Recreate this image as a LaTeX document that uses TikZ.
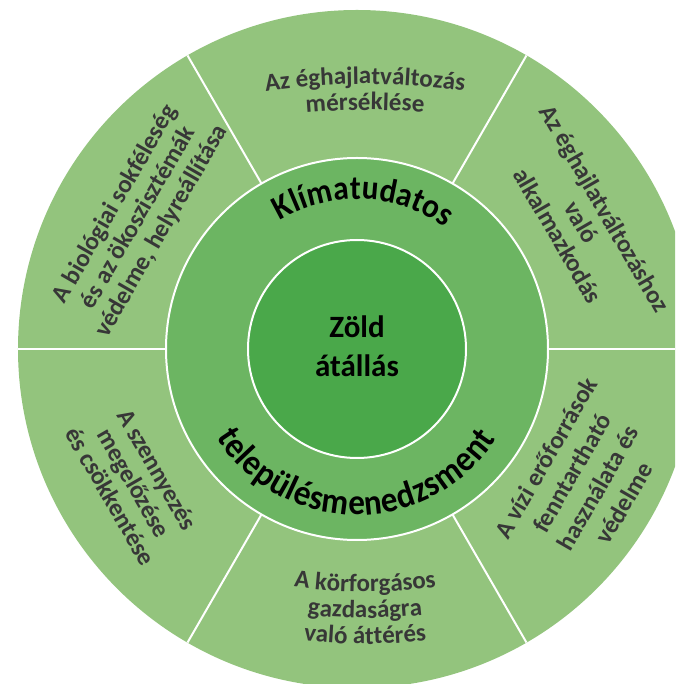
\documentclass[tikz,border=0pt]{standalone}
\usepackage{fontspec}
\setmainfont{Carlito}
\newfontfamily\narrowfont{Carlito}[FakeStretch=0.92]
\newfontfamily\botfamily{Carlito}[FakeStretch=0.92]
\usetikzlibrary{decorations.text}
\definecolor{outerg}{RGB}{147,196,125}
\definecolor{midg}{RGB}{108,181,98}
\definecolor{innerg}{RGB}{74,168,74}
\definecolor{txtgray}{RGB}{55,55,55}
\newcommand{\outerfont}{\fontsize{25}{27}\selectfont\bfseries}
\newcommand{\midfont}{\narrowfont\fontsize{34}{38}\selectfont\bfseries}
\newcommand{\botfont}{\botfamily\fontsize{36}{40}\selectfont\bfseries}
\begin{document}
\begin{tikzpicture}[x=1pt,y=1pt,
  ring/.style={circle, inner sep=0pt, outer sep=0pt},
  divider/.style={draw=white, line width=2pt},
  outertext/.style={align=center, text=txtgray, font=\outerfont, inner sep=0pt},
  centertext/.style={font=\fontsize{31}{39}\selectfont\bfseries, text=black, anchor=base, inner sep=0pt},
  arctxt/.style={decorate, decoration={text along path, text align=center, text={#1}}},
  fittxt/.style 2 args={decorate, decoration={text effects along path, text={#1},
      text effects/.cd, text along path, fit text to path, characters={text=black, font=#2}}}
]
\useasboundingbox (-357,-335) rectangle (318,349);
\clip (-357,-335) rectangle (318,349);
% rings
\node[ring, fill=outerg, minimum size=678pt] (outer) at (0,0) {};
\foreach \a in {0,60,...,300}{
  \draw[divider] (0,0) -- (outer.\a);
}
\node[ring, fill=midg, draw=white, line width=2pt, minimum size=382pt] (mid) at (0,0) {};
\node[ring, fill=innerg, draw=white, line width=2pt, minimum size=218pt] (inner) at (0,0) {};
% centre
\node[centertext] (zold) at (0,11) {Zöld};
\node[centertext] (atallas) at (0,-28) {átállás};
% middle ring arched texts
\path[fittxt={Klímatudatos}{\midfont}] (121:150) arc[start angle=121, end angle=54, radius=150];
\path[fittxt={településmenedzsment}{\botfont}] (212:166) arc[start angle=212, end angle=327, radius=166];
% top segment
\path[shift={(8,-435)}, arctxt={|\outerfont\color{txtgray}|Az éghajlatváltozás}] (102:700) arc[start angle=102, end angle=78, radius=700];
\path[shift={(8,-435)}, arctxt={|\outerfont\color{txtgray}|mérséklése}] (102:674) arc[start angle=102, end angle=78, radius=674];
% bottom segment
\path[shift={(8,257)}, arctxt={|\outerfont\color{txtgray}|A körforgásos}] (255:500) arc[start angle=255, end angle=285, radius=500];
\path[shift={(8,257)}, arctxt={|\outerfont\color{txtgray}|gazdaságra}] (255:526) arc[start angle=255, end angle=285, radius=526];
\path[shift={(8,257)}, arctxt={|\outerfont\color{txtgray}|való áttérés}] (255:552) arc[start angle=255, end angle=285, radius=552];
% rotated segment texts
\node[outertext, rotate=-60] (t30) at (29.5:258) {Az éghajlatváltozáshoz\\való\\alkalmazkodás};
\node[outertext, rotate=60] (t150) at (149:255) {A biológiai sokféleség\\és az ökoszisztémák\\védelme, helyreállítása};
\node[outertext, rotate=-60] (t210) at (211:260) {A szennyezés\\megelőzése\\és csökkentése};
\node[outertext, rotate=60, font=\fontsize{25}{30}\selectfont\bfseries] (t330) at (-30:263) {A vízi erőforrások\\fenntartható\\használata és\\védelme};
\end{tikzpicture}
\end{document}
